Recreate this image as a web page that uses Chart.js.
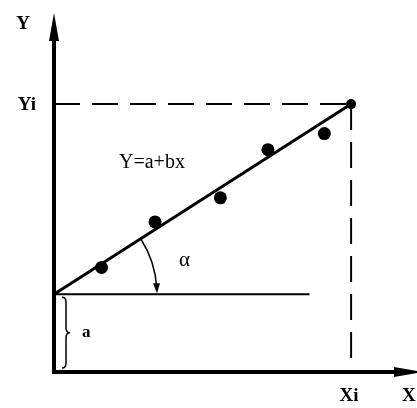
<!DOCTYPE html>
<html>
<head>
<meta charset="utf-8">
<script src="https://cdn.jsdelivr.net/npm/chart.js@4"></script>
<style>
    body { margin: 0; background: #fff; }
    #wrap { width: 417px; height: 408px; position: relative; }
</style>
</head>
<body>
<div id="wrap"><canvas id="regChart"></canvas></div>
<script>
// Measured points (x, y) in chart units
const pointX = [1.6, 3.4, 5.6, 7.2, 9.1];
const pointY = [3.9, 5.6, 6.5, 8.3, 8.9];

// Regression line Y = a + bx, from (0, a) to (Xi, Yi)
const interceptA = 2.9;
const xi = 10;
const yi = 10;
const baseLineEnd = 8.6;

// Axis ranges
const xRange = [0, 12];
const yRange = [0, 13.4];

const serif = '"Liberation Serif", "DejaVu Serif", serif';

// Draws the axes, arrows, brace, angle arc and the labels
const annotations = {
    id: 'annotations',
    afterDatasetsDraw(chart) {
        const ctx = chart.ctx;
        const xs = chart.scales.x;
        const ys = chart.scales.y;
        const ox = xs.getPixelForValue(0);
        const oy = ys.getPixelForValue(0);
        const top = chart.chartArea.top;

        ctx.save();
        ctx.strokeStyle = '#000';
        ctx.fillStyle = '#000';

        // axes
        ctx.lineWidth = 4;
        ctx.beginPath();
        ctx.moveTo(ox, oy + 2);
        ctx.lineTo(ox, top + 20);
        ctx.moveTo(ox - 2, oy);
        ctx.lineTo(400, oy);
        ctx.stroke();

        // arrow heads
        ctx.beginPath();
        ctx.moveTo(ox, top);
        ctx.lineTo(ox - 5, top + 28);
        ctx.lineTo(ox + 5, top + 28);
        ctx.closePath();
        ctx.fill();
        ctx.beginPath();
        ctx.moveTo(422, oy);
        ctx.lineTo(394, oy - 5);
        ctx.lineTo(394, oy + 5);
        ctx.closePath();
        ctx.fill();

        // brace for a
        const ay = ys.getPixelForValue(interceptA);
        const b0 = ay + 3, b1 = oy - 4, bm = (b0 + b1) / 2;
        const bx0 = ox + 8, bx1 = ox + 12, tip = ox + 16;
        ctx.lineWidth = 1.5;
        ctx.beginPath();
        ctx.moveTo(bx0, b0);
        ctx.quadraticCurveTo(bx1, b0, bx1, b0 + 5);
        ctx.lineTo(bx1, bm - 5);
        ctx.quadraticCurveTo(bx1, bm, tip, bm);
        ctx.quadraticCurveTo(bx1, bm, bx1, bm + 5);
        ctx.lineTo(bx1, b1 - 5);
        ctx.quadraticCurveTo(bx1, b1, bx0, b1);
        ctx.stroke();

        // angle arc alpha
        const ex = xs.getPixelForValue(xi);
        const ey = ys.getPixelForValue(yi);
        const ang = Math.atan2(ey - ay, ex - ox);
        const r = 103;
        ctx.lineWidth = 1.5;
        ctx.beginPath();
        ctx.arc(ox, ay, r, ang, -0.06);
        ctx.stroke();
        ctx.beginPath();
        ctx.moveTo(ox + r, ay - 1);
        ctx.lineTo(ox + r - 4, ay - 11);
        ctx.lineTo(ox + r + 3, ay - 11);
        ctx.closePath();
        ctx.fill();

        // labels
        ctx.textBaseline = 'middle';
        ctx.textAlign = 'center';
        ctx.font = 'bold 19px ' + serif;
        ctx.fillText('Y', 23, 24);
        ctx.fillText('Yi', 27, ey + 1);
        ctx.fillText('Xi', ex - 2, 396);
        ctx.textAlign = 'left';
        ctx.fillText('X', 402, 396);
        ctx.font = 'bold 17px ' + serif;
        ctx.fillText('a', ox + 28, bm);
        ctx.font = '20px ' + serif;
        ctx.fillText('Y=a+bx', 119, 163);
        ctx.font = '21px ' + serif;
        ctx.fillText('\u03b1', 179, 260);
        ctx.restore();
    }
};

function createChart() {
    const ctx = document.getElementById('regChart').getContext('2d');
    const points = pointX.map((x, i) => ({ x: x, y: pointY[i] }));
    const dash = { borderColor: '#000', borderWidth: 2, borderDash: [26, 12], pointRadius: 0 };
    new Chart(ctx, {
        type: 'scatter',
        data: {
            datasets: [
                Object.assign({ type: 'line', data: [{ x: 0, y: yi }, { x: xi, y: yi }] }, dash),
                Object.assign({ type: 'line', data: [{ x: xi, y: yi }, { x: xi, y: 0 }] }, dash),
                {
                    type: 'line',
                    data: [{ x: 0, y: interceptA }, { x: baseLineEnd, y: interceptA }],
                    borderColor: '#000', borderWidth: 2, pointRadius: 0
                },
                {
                    type: 'line',
                    data: [{ x: 0, y: interceptA }, { x: xi, y: yi }],
                    borderColor: '#000', borderWidth: 3, pointRadius: [0, 5],
                    pointBackgroundColor: '#000', pointBorderWidth: 0
                },
                {
                    data: points,
                    backgroundColor: '#000', borderWidth: 0, pointRadius: 6.5
                }
            ]
        },
        options: {
            responsive: true,
            maintainAspectRatio: false,
            animation: false,
            events: [],
            layout: { padding: { left: 54, right: 0, top: 13, bottom: 36 } },
            plugins: { legend: { display: false }, tooltip: { enabled: false } },
            scales: {
                x: { type: 'linear', display: false, min: xRange[0], max: xRange[1] },
                y: { type: 'linear', display: false, min: yRange[0], max: yRange[1] }
            }
        },
        plugins: [annotations]
    });
}

document.addEventListener('DOMContentLoaded', createChart);
</script>
</body>
</html>
